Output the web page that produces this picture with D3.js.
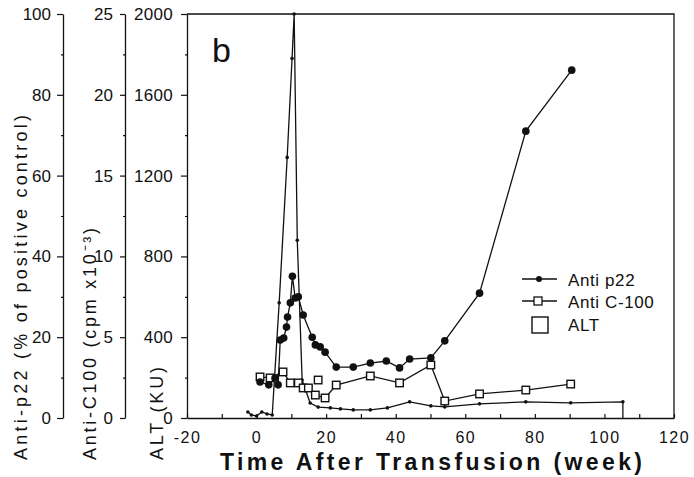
<!DOCTYPE html>
<html>
<head>
<meta charset="utf-8">
<script src="https://cdn.jsdelivr.net/npm/d3@7"></script>
<style>
  html, body { margin: 0; padding: 0; background: #fff; }
  svg { display: block; }
  text { font-family: "Liberation Sans", Arial, sans-serif; fill: #111; }
</style>
</head>
<body>
<svg id="chart" width="694" height="477"></svg>
<script>
// ---- Data ----
// Anti-p22 (% of positive control): [week, value]
const antiP22 = [
  [1.0, 8.9], [3.5, 8.2], [5.3, 9.9], [6.2, 8.2], [6.8, 19.3], [7.8, 19.8],
  [8.6, 22.5], [8.9, 25.0], [9.7, 28.5], [10.3, 35.1], [11.1, 29.7], [12.0, 30.0],
  [13.4, 25.5], [16.0, 20.0], [16.9, 18.1], [18.3, 17.6], [19.7, 16.3], [22.9, 12.6],
  [27.8, 12.6], [32.7, 13.6], [37.3, 14.1], [41.1, 12.4], [44.0, 14.6], [50.1, 14.9],
  [54.1, 19.1], [64.1, 30.9], [77.4, 71.0], [90.6, 86.1]
];
// Anti-C100 (cpm x10^-3): [week, value]
const antiC100 = [
  [1.0, 2.54], [3.9, 2.48], [7.6, 2.85], [9.7, 2.17], [12.0, 2.17], [13.4, 1.86],
  [14.9, 1.86], [16.9, 1.42], [19.7, 1.24], [22.9, 2.04], [32.7, 2.60], [41.1, 2.17],
  [50.1, 3.28], [54.1, 1.05], [64.1, 1.49], [77.4, 1.73], [90.3, 2.10]
];
// ALT (KU): [week, value]
const alt = [
  [-2.5, 30], [-1.5, 15], [0, 10], [1.5, 30], [3.0, 20], [4.5, 15], [6.5, 570],
  [8.8, 1290], [10.2, 1780], [10.8, 2000], [11.7, 880], [13.1, 188], [15.4, 74],
  [17.7, 54], [21.2, 50], [24.1, 45], [27.8, 40], [32.7, 40], [37.6, 50], [44.0, 80],
  [50.1, 60], [54.1, 55], [64.1, 70], [77.4, 80], [90.3, 75], [105.3, 80], [105.3, 0]
];
// Unconnected ALT squares
const altSquares = [[17.7, 188]];

const xTicks = [-20, 0, 20, 40, 60, 80, 100, 120];
const altTicks = [0, 400, 800, 1200, 1600, 2000];
const c100Ticks = [0, 5, 10, 15, 20, 25];
const p22Ticks = [0, 20, 40, 60, 80, 100];
const legendLabels = ["Anti p22", "Anti C-100", "ALT"];

// ---- Layout ----
const svg = d3.select("#chart");
const X0 = 187, X1 = 674, Y0 = 418, Y1 = 14;
const ink = "#111";

const x = d3.scaleLinear().domain([-20, 120]).range([X0, X1]);
const yAlt = d3.scaleLinear().domain([0, 2000]).range([Y0, Y1]);
const yC = d3.scaleLinear().domain([0, 25]).range([Y0, Y1]);
const yP = d3.scaleLinear().domain([0, 100]).range([Y0, Y1]);

function styleAxis(g) {
  g.selectAll("path.domain").attr("stroke", ink).attr("stroke-width", 1.3);
  g.selectAll(".tick line").attr("stroke", ink).attr("stroke-width", 1.2);
  g.selectAll(".tick text").attr("fill", ink)
    .style("font-family", '"Liberation Sans", Arial, sans-serif');
}

// Frame (top and right)
svg.append("path")
  .attr("d", `M${X0},${Y1}H${X1}V${Y0}`)
  .attr("fill", "none").attr("stroke", ink).attr("stroke-width", 1.3);

// X axis
const gx = svg.append("g").attr("transform", `translate(0,${Y0})`)
  .call(d3.axisBottom(x).tickValues(d3.range(-20, 121, 10)).tickSizeInner(-4).tickSizeOuter(0)
    .tickFormat(d => xTicks.includes(d) ? String(d).replace("\u2212", "-") : ""));
styleAxis(gx);
gx.selectAll(".tick text").attr("y", 14).attr("dy", "0.71em")
  .style("font-size", "16px").style("letter-spacing", "1.5px");

// ALT axis
const ga = svg.append("g").attr("transform", `translate(${X0},0)`)
  .call(d3.axisLeft(yAlt).tickValues(d3.range(0, 2001, 200)).tickSizeOuter(0)
    .tickSizeInner(6).tickPadding(8)
    .tickFormat(d => altTicks.includes(d) ? d : ""));
styleAxis(ga);
ga.selectAll(".tick").filter(d => !altTicks.includes(d)).select("line").attr("x2", -2);
ga.selectAll(".tick text").style("font-size", "17px").style("letter-spacing", "0.3px");

// C100 axis
const gc = svg.append("g").attr("transform", `translate(125,0)`)
  .call(d3.axisLeft(yC).tickValues(d3.range(0, 25.1, 2.5)).tickSizeOuter(0)
    .tickSizeInner(5).tickPadding(7)
    .tickFormat(d => c100Ticks.includes(d) ? d : ""));
styleAxis(gc);
gc.selectAll(".tick").filter(d => !c100Ticks.includes(d)).select("line").attr("x2", -2);
gc.selectAll(".tick text").style("font-size", "17px");

// p22 axis
const gp = svg.append("g").attr("transform", `translate(63,0)`)
  .call(d3.axisLeft(yP).tickValues(d3.range(0, 101, 10)).tickSizeOuter(0)
    .tickSizeInner(6).tickPadding(6)
    .tickFormat(d => p22Ticks.includes(d) ? d : ""));
styleAxis(gp);
gp.selectAll(".tick").filter(d => !p22Ticks.includes(d)).select("line").attr("x2", -2);
gp.selectAll(".tick text").style("font-size", "17px");

// Axis titles
function vTitle(xb, len, txt) {
  svg.append("text")
    .attr("transform", `translate(${xb},460) rotate(-90)`)
    .attr("text-anchor", "start")
    .attr("textLength", len).attr("lengthAdjust", "spacing")
    .style("font-size", "18px")
    .text(txt);
}
vTitle(27, 345, "Anti-p22 (% of positive control)");
vTitle(96, 232, "Anti-C100 (cpm x10\u207B\u00B3)");
vTitle(163, 93, "ALT (KU)");

svg.append("text")
  .attr("x", 431).attr("y", 470)
  .attr("text-anchor", "middle")
  .attr("textLength", 422).attr("lengthAdjust", "spacing")
  .style("font-size", "23px").style("font-weight", "bold")
  .text("Time After Transfusion (week)");

// Panel letter
svg.append("text").attr("x", 212).attr("y", 62)
  .style("font-size", "34px").text("b");

// ---- Series ----
const lineP = d3.line().x(d => x(d[0])).y(d => yP(d[1]));
const lineC = d3.line().x(d => x(d[0])).y(d => yC(d[1]));
const lineA = d3.line().x(d => x(d[0])).y(d => yAlt(d[1]));

// ALT thin line with small dots
svg.append("path").attr("d", lineA(alt))
  .attr("fill", "none").attr("stroke", ink).attr("stroke-width", 1.3);
svg.append("g").selectAll("circle").data(alt.slice(0, -1)).join("circle")
  .attr("cx", d => x(d[0])).attr("cy", d => yAlt(d[1])).attr("r", 1.8).attr("fill", ink);

// Anti-C100 open squares line
svg.append("path").attr("d", lineC(antiC100))
  .attr("fill", "none").attr("stroke", ink).attr("stroke-width", 1.3);
const sq = 7.5;
svg.append("g").selectAll("rect").data(antiC100).join("rect")
  .attr("x", d => x(d[0]) - sq / 2).attr("y", d => yC(d[1]) - sq / 2)
  .attr("width", sq).attr("height", sq)
  .attr("fill", "#fff").attr("stroke", ink).attr("stroke-width", 1.4);
svg.append("g").selectAll("rect").data(altSquares).join("rect")
  .attr("x", d => x(d[0]) - sq / 2).attr("y", d => yAlt(d[1]) - sq / 2)
  .attr("width", sq).attr("height", sq)
  .attr("fill", "#fff").attr("stroke", ink).attr("stroke-width", 1.4);

// Anti-p22 filled circles line
svg.append("path").attr("d", lineP(antiP22))
  .attr("fill", "none").attr("stroke", ink).attr("stroke-width", 1.3);
svg.append("g").selectAll("circle").data(antiP22).join("circle")
  .attr("cx", d => x(d[0])).attr("cy", d => yP(d[1])).attr("r", 3.8).attr("fill", ink);

// ---- Legend ----
const lg = svg.append("g");
lg.append("line").attr("x1", 522).attr("x2", 557).attr("y1", 279).attr("y2", 279)
  .attr("stroke", ink).attr("stroke-width", 1.3);
lg.append("circle").attr("cx", 539).attr("cy", 279).attr("r", 3).attr("fill", ink);
lg.append("line").attr("x1", 522).attr("x2", 557).attr("y1", 301).attr("y2", 301)
  .attr("stroke", ink).attr("stroke-width", 1.3);
lg.append("rect").attr("x", 534).attr("y", 297).attr("width", 8).attr("height", 8)
  .attr("fill", "#fff").attr("stroke", ink).attr("stroke-width", 1.3);
lg.append("rect").attr("x", 532).attr("y", 317).attr("width", 16).attr("height", 16)
  .attr("fill", "none").attr("stroke", ink).attr("stroke-width", 1.4);
const lgY = [286, 308, 331];
lg.selectAll("text").data(legendLabels).join("text")
  .attr("x", 568).attr("y", (d, i) => lgY[i])
  .style("font-size", "17px").style("letter-spacing", "0.6px")
  .text(d => d);
</script>
</body>
</html>
